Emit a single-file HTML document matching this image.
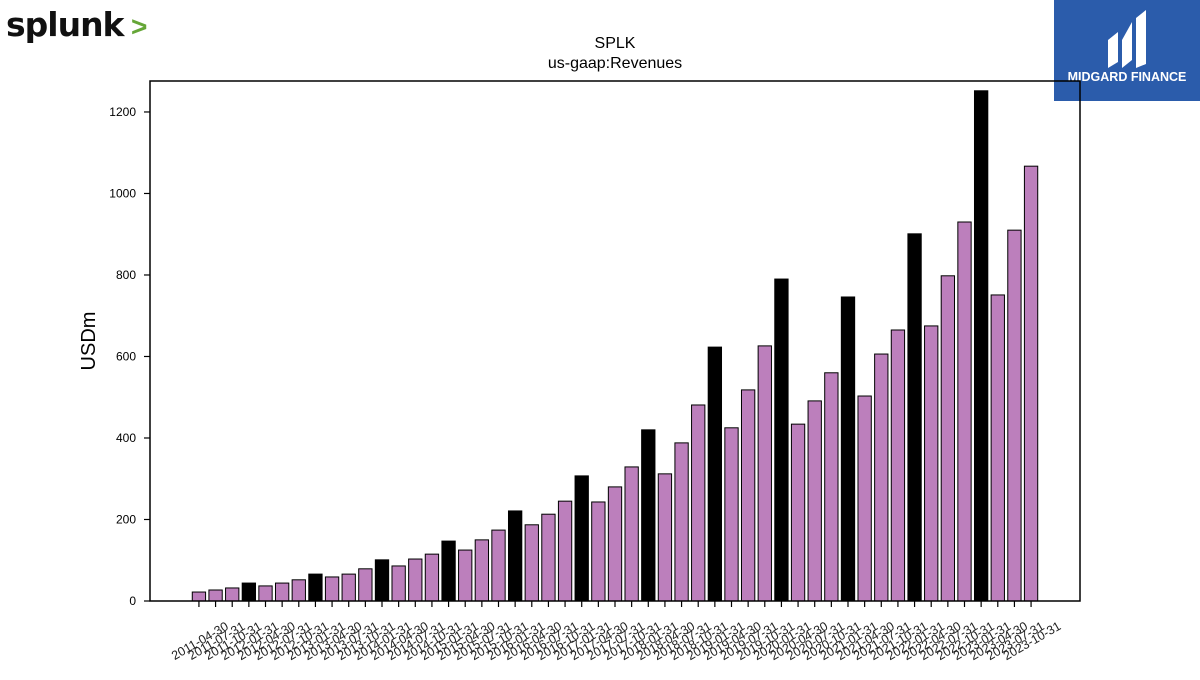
<!DOCTYPE html>
<html><head><meta charset="utf-8"><style>
body{margin:0;background:#fff;width:1200px;height:675px;overflow:hidden;font-family:"Liberation Sans","DejaVu Sans",sans-serif}
</style></head><body>
<svg id="c" width="1200" height="675" xmlns="http://www.w3.org/2000/svg">
<g>
<text x="6" y="36" font-size="33" font-weight="bold" fill="#111" letter-spacing="-1" font-family="DejaVu Sans, sans-serif">splunk</text>
<text x="131" y="36" font-size="28" fill="#65a637" font-weight="bold">&gt;</text>
</g>
<g>
<rect x="1054" y="0" width="146" height="101" fill="#2b5cab"/>
<path d="M1108 68 L1108 40 L1118 32 L1118 62 Z M1122 40 L1132 22 L1132 60 L1122 68 Z M1136 18 L1146 10 L1146 64 L1136 68 Z" fill="#fff"/>
<text x="1127" y="81" font-size="12.5" font-weight="bold" fill="#fff" text-anchor="middle">MIDGARD FINANCE</text>
</g>
<text x="615" y="48" font-size="16" text-anchor="middle" fill="#000">SPLK</text>
<text x="615" y="68" font-size="16" text-anchor="middle" fill="#000">us-gaap:Revenues</text>
<text transform="translate(95,341) rotate(-90)" font-size="20" text-anchor="middle" fill="#000">USDm</text>
<g id="bars"></g><g id="axes"></g>
</svg>
<script>
const categories=["2011-04-30","2011-07-31","2011-10-31","2012-01-31","2012-04-30","2012-07-31","2012-10-31","2013-01-31","2013-04-30","2013-07-31","2013-10-31","2014-01-31","2014-04-30","2014-07-31","2014-10-31","2015-01-31","2015-04-30","2015-07-31","2015-10-31","2016-01-31","2016-04-30","2016-07-31","2016-10-31","2017-01-31","2017-04-30","2017-07-31","2017-10-31","2018-01-31","2018-04-30","2018-07-31","2018-10-31","2019-01-31","2019-04-30","2019-07-31","2019-10-31","2020-01-31","2020-04-30","2020-07-31","2020-10-31","2021-01-31","2021-04-30","2021-07-31","2021-10-31","2022-01-31","2022-04-30","2022-07-31","2022-10-31","2023-01-31","2023-04-30","2023-07-31","2023-10-31"];
const revenues=[22,27,32,44,37,44,52,66,59,66,79,101,86,103,115,147,125,150,174,221,187,213,245,307,243,280,329,420,312,388,481,623,425,518,626,790,434,491,560,746,503,606,665,901,675,798,930,1252,751,910,1067];
const yTicks=[0,200,400,600,800,1000,1200];
const NS="http://www.w3.org/2000/svg";
const L=150,R=1080,T=81,B=601,yMax=1276;
const step=(R-L)/(categories.length-1+2*2.94);
const xs=i=>L+2.94*step+i*step;
const ys=v=>B-v/yMax*(B-T);
const bars=document.getElementById('bars'),axes=document.getElementById('axes');
function mk(tag,at,parent){const e=document.createElementNS(NS,tag);for(const k in at)e.setAttribute(k,at[k]);parent.appendChild(e);return e;}
const bw=step*0.8;
revenues.forEach((v,i)=>{
 const annual=categories[i].slice(5)==="01-31";
 const r=mk('rect',{x:xs(i)-bw/2,y:ys(v),width:bw,height:B-ys(v),fill:annual?'#000':'#bc7fbc',stroke:'#000','stroke-width':1},bars);
 
 
 const t=mk('line',{x1:xs(i),x2:xs(i),y1:B,y2:B+6,stroke:'#000','stroke-width':1.2},axes);
 
 
 const lb=mk('text',{transform:`translate(${xs(i)+1},${B+40}) rotate(-30)`,y:4,'font-size':12.5,'text-anchor':'middle',fill:'#222'},axes);
 lb.textContent=categories[i];
 
 
});
yTicks.forEach(v=>{
 const t=mk('line',{x1:L-6,x2:L,y1:ys(v),y2:ys(v),stroke:'#000','stroke-width':1.2},axes);
 
 
 const lb=mk('text',{x:L-14,y:ys(v)+4,'font-size':12,'text-anchor':'end',fill:'#000'},axes);
 lb.textContent=v;
 
 
});
const f=mk('rect',{x:L,y:T,width:R-L,height:B-T,fill:'none',stroke:'#000','stroke-width':1.5},axes);


</script>
</body></html>
